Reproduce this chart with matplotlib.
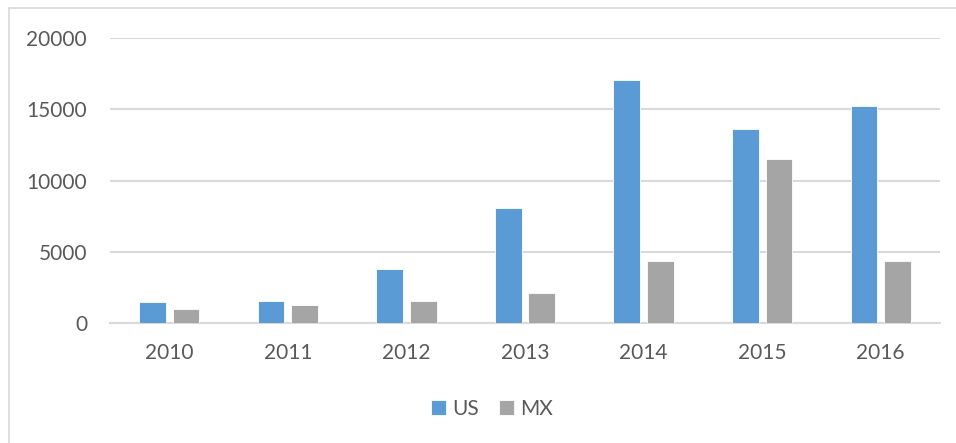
import matplotlib
matplotlib.use("Agg")
import matplotlib.pyplot as plt
import numpy as np
from matplotlib.lines import Line2D

years = ["2010", "2011", "2012", "2013", "2014", "2015", "2016"]
us = [1500, 1540, 3830, 8080, 17060, 13600, 15250]
mx = [980, 1260, 1560, 2100, 4350, 11540, 4360]
yticks = [0, 5000, 10000, 15000, 20000]

plt.rcParams['font.family'] = ['Lato', 'DejaVu Sans']
txt = '#595959'

fig = plt.figure(figsize=(9.56, 4.43), dpi=100)
ax = fig.add_axes([110/956, 1-323.3/443, 830/956, (323.3-38)/443])

x = np.arange(len(years))
w = 0.225
off = 0.142
ax.bar(x - off, us, w, color='#5B9BD5', edgecolor='white', linewidth=0.6, label='US', zorder=3)
ax.bar(x + off, mx, w, color='#A5A5A5', edgecolor='white', linewidth=0.6, label='MX', zorder=3)

ax.set_xlim(-0.5, len(years) - 0.5)
ax.set_ylim(0, 20000)
ax.set_yticks(yticks)
ax.set_yticklabels([str(v) for v in yticks])
ax.set_xticks(x)
ax.set_xticklabels(years)
ax.yaxis.grid(True, color='#d9d9d9', linewidth=1.5, zorder=0)
ax.set_axisbelow(True)
for s in ['top', 'right', 'left']:
    ax.spines[s].set_visible(False)
ax.spines['bottom'].set_color('#d9d9d9')
ax.spines['bottom'].set_linewidth(1.5)
ax.tick_params(axis='both', length=0, labelsize=15, labelcolor=txt)
ax.tick_params(axis='y', pad=16.5)
ax.tick_params(axis='x', pad=14)

leg = fig.legend(loc='center', bbox_to_anchor=(492/956, 1-409/443), ncol=2, frameon=False,
                 fontsize=15, handlelength=0.7, handleheight=0.7, handletextpad=0.3,
                 columnspacing=1.0)
for t in leg.get_texts():
    t.set_color(txt)

# chart border (top & left visible)
fig.add_artist(Line2D([9/956, 9/956], [0, 1-8/443], color='#d9d9d9', linewidth=1.2, transform=fig.transFigure))
fig.add_artist(Line2D([9/956, 1], [1-8/443, 1-8/443], color='#d9d9d9', linewidth=1.2, transform=fig.transFigure))

fig.savefig('out.png', dpi=100)
